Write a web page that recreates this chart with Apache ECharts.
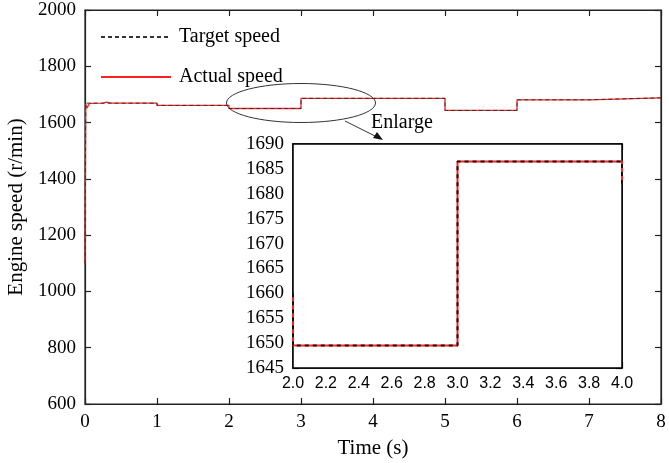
<!DOCTYPE html>
<html lang="en" style="height: 100%">
<head>
  <meta charset="utf-8">
</head>
<body style="height: 100%; margin: 0; background: #fff">
  <div id="container" style="width: 669px; height: 463px"></div>

  <script type="text/javascript" src="https://fastly.jsdelivr.net/npm/echarts@6/dist/echarts.min.js"></script>
  <script type="text/javascript">
    // main plot, time (s) vs speed (r/min)
    var mainTime   = [0,    0.01, 0.03, 0.06, 0.25, 0.3,  0.36, 1.0,  1.0,  2.0,  2.0,  3.0,  3.0,  5.0,  5.0,  6.0,  6.0,  7.0,  7.0,  8.0];
    var mainTarget = [1100, 1669, 1669, 1669, 1669, 1669, 1669, 1669, 1661, 1661, 1650, 1650, 1686, 1686, 1643, 1643, 1681, 1681, 1688, 1688];
    var mainActual = [1100, 1665, 1652, 1668, 1669, 1673, 1669, 1669, 1661, 1661, 1650, 1650, 1686, 1686, 1643, 1643, 1681, 1681, 1688, 1688];

    // enlarged window
    var insetTime   = [2.0,  2.0,    3.0,    3.0,    4.0,    4.0];
    var insetTarget = [1660, 1649.5, 1649.5, 1686.5, 1686.5, 1682];
    var insetActual = [1660, 1649.5, 1649.5, 1686.5, 1686.5, 1682];

    var legendNames = ['Target speed', 'Actual speed'];

    function pairs(xs, ys) {
      return xs.map(function (x, i) { return [x, ys[i]]; });
    }

    var dom = document.getElementById('container');
    var myChart = echarts.init(dom, null, { renderer: 'canvas' });

    var serif = 'Liberation Serif';
    var axisCol = '#222';
    var plain = function (v) { return String(v); };

    function ticks(col) {
      return { show: true, inside: true, length: 6, lineStyle: { color: col, width: 1.2 } };
    }

    // unlabelled axis used to close the box (top / right) with inward ticks
    function frameAxis(pos, grid, min, max, interval, col, w) {
      return {
        type: 'value', gridIndex: grid, position: pos,
        min: min, max: max, interval: interval,
        axisLine: { show: true, onZero: false, lineStyle: { color: col, width: w } },
        axisTick: ticks(col),
        axisLabel: { show: false },
        splitLine: { show: false }
      };
    }

    var option = {
      backgroundColor: '#fff',
      animation: false,
      textStyle: { fontFamily: serif, color: '#000' },
      legend: {
        orient: 'vertical',
        left: 95, top: 22,
        itemWidth: 70, itemHeight: 20, itemGap: 20,
        data: legendNames,
        itemStyle: { color: 'rgba(0,0,0,0)', borderWidth: 0, opacity: 0 },
        textStyle: { fontFamily: serif, fontSize: 20, color: '#000', lineHeight: 20, padding: [0, 0, 0, 3] }
      },
      grid: [
        { left: 85, right: 8, top: 10, bottom: 59, containLabel: false, outerBoundsMode: 'none',
          show: true, borderColor: axisCol, borderWidth: 1.2 },
        { left: 293, right: 47, top: 144, bottom: 95, containLabel: false, outerBoundsMode: 'none',
          show: true, backgroundColor: '#fff', borderColor: '#000', borderWidth: 1.5, z: 5 }
      ],
      xAxis: [
        {
          type: 'value', gridIndex: 0, min: 0, max: 8, interval: 1, position: 'bottom',
          name: 'Time (s)', nameLocation: 'middle', nameGap: 34,
          nameTextStyle: { fontFamily: serif, fontSize: 21, color: '#000' },
          axisLine: { show: true, onZero: false, lineStyle: { color: axisCol, width: 1.2 } },
          axisTick: ticks(axisCol),
          axisLabel: { fontFamily: serif, fontSize: 19, color: '#000', margin: 9, formatter: plain },
          splitLine: { show: false }
        },
        frameAxis('top', 0, 0, 8, 1, axisCol, 1.2),
        {
          type: 'value', gridIndex: 1, min: 2, max: 4, interval: 0.2, position: 'bottom',
          axisLine: { show: true, onZero: false, lineStyle: { color: '#000', width: 1.5 } },
          axisTick: ticks('#000'),
          axisLabel: {
            fontFamily: 'Liberation Sans', fontSize: 16, color: '#000', margin: 8,
            formatter: function (v) { return v.toFixed(1); }
          },
          splitLine: { show: false }
        },
        frameAxis('top', 1, 2, 4, 0.2, '#000', 1.5)
      ],
      yAxis: [
        {
          type: 'value', gridIndex: 0, min: 600, max: 2000, interval: 200, position: 'left',
          name: 'Engine speed (r/min)', nameLocation: 'middle', nameGap: 52,
          nameTextStyle: { fontFamily: serif, fontSize: 21, color: '#000' },
          axisLine: { show: true, onZero: false, lineStyle: { color: axisCol, width: 1.2 } },
          axisTick: ticks(axisCol),
          axisLabel: { fontFamily: serif, fontSize: 19, color: '#000', margin: 9, formatter: plain },
          splitLine: { show: false }
        },
        frameAxis('right', 0, 600, 2000, 200, axisCol, 1.2),
        {
          type: 'value', gridIndex: 1, min: 1645, max: 1690, interval: 5, position: 'left',
          axisLine: { show: true, onZero: false, lineStyle: { color: '#000', width: 1.5 } },
          axisTick: ticks('#000'),
          axisLabel: { fontFamily: serif, fontSize: 19, color: '#000', margin: 9, formatter: plain },
          splitLine: { show: false }
        },
        frameAxis('right', 1, 1645, 1690, 5, '#000', 1.5)
      ],
      series: [
        {
          name: 'Actual speed', type: 'line', xAxisIndex: 0, yAxisIndex: 0,
          symbol: 'none', data: pairs(mainTime, mainActual),
          lineStyle: { color: '#ff2020', width: 1.3 }, itemStyle: { color: '#ff2020' }, z: 2
        },
        {
          // same scale as axes 0, bound to the frame axes so they are used
          name: 'Target speed', type: 'line', xAxisIndex: 1, yAxisIndex: 1,
          symbol: 'none', data: pairs(mainTime, mainTarget),
          lineStyle: { color: '#333', width: 1, type: [4, 3] }, itemStyle: { color: '#333' }, z: 3
        },
        {
          name: 'Actual speed', type: 'line', xAxisIndex: 2, yAxisIndex: 2,
          symbol: 'none', data: pairs(insetTime, insetActual), clip: false,
          lineStyle: { color: '#ff2020', width: 2 }, z: 6
        },
        {
          name: 'Target speed', type: 'line', xAxisIndex: 3, yAxisIndex: 3,
          symbol: 'none', data: pairs(insetTime, insetTarget), clip: false,
          lineStyle: { color: '#111', width: 2, type: [4, 4] }, z: 7
        }
      ],
      graphic: [
        {
          type: 'ellipse', shape: { cx: 301, cy: 103, rx: 74.5, ry: 19.5 },
          style: { fill: 'none', stroke: '#333', lineWidth: 1 }
        },
        {
          type: 'line', shape: { x1: 345, y1: 121, x2: 378, y2: 137.5 },
          style: { stroke: '#333', lineWidth: 1 }
        },
        {
          type: 'polygon', shape: { points: [[383, 140], [373, 138], [377, 132]] },
          style: { fill: '#111' }
        },
        {
          type: 'text', left: 371, top: 113,
          style: { text: 'Enlarge', fontFamily: serif, fontSize: 20, fill: '#000' }
        }
      ]
    };

    myChart.setOption(option);
    window.addEventListener('resize', myChart.resize);
  </script>
</body>
</html>
